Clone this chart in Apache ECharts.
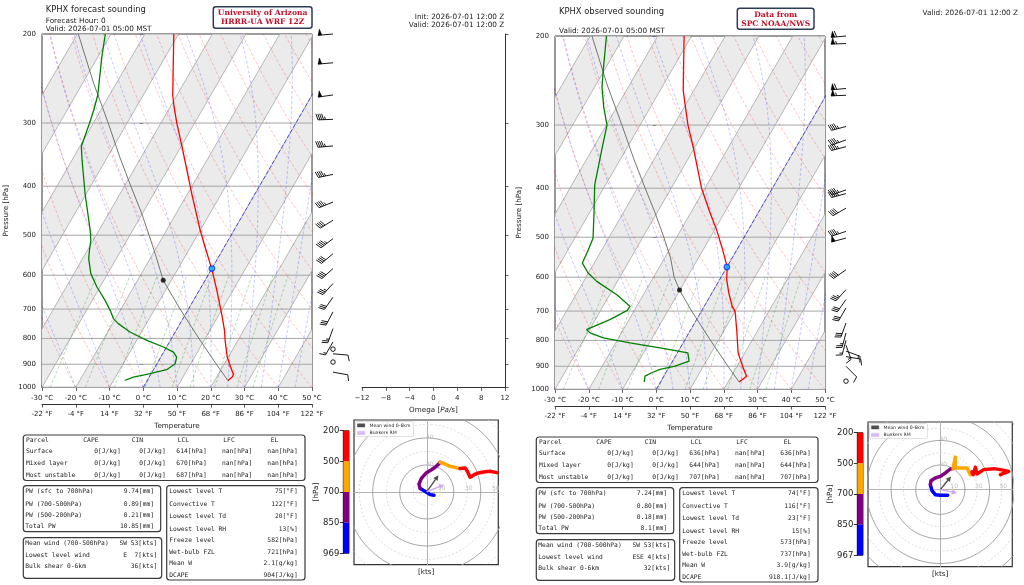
<!DOCTYPE html>
<html>
<head>
<meta charset="utf-8">
<title>KPHX soundings</title>
<script src="https://cdn.jsdelivr.net/npm/echarts@6.0.0/dist/echarts.min.js"></script>
<style>
  html, body { margin: 0; padding: 0; background: #fff; }
  #main { width: 1024px; height: 585px; }
</style>
</head>
<body>
<div id="main"></div>
<script>
var pressureTicks = [200, 300, 400, 500, 600, 700, 800, 900, 1000];
var omegaTicks = [-12, 12, 4];           // min, max, step

// forecast (HRRR-UA WRF)
var fcstPres = [969, 961, 954, 942.5, 911.6, 871, 807, 771, 714.7, 642.7, 584.8, 527.6, 489, 413.6, 372, 334, 300.6, 279, 264, 200];
var fcstTemp = [23.9, 24.0, 24.6, 24.5, 22.4, 19.7, 16.2, 14.3, 10.6, 5.2, 0.2, -5.7, -10.0, -18.8, -24.2, -29.7, -35.2, -38.8, -41.3, -51.4];
var fcstDewpPres = [969, 954, 939.5, 922.5, 897.6, 871, 851.4, 832, 807, 777, 748, 731, 704, 672.7, 633, 595.6, 556.2, 535.6, 511.7, 489, 413.6, 355.3, 333.4, 300.6, 283, 264, 222, 200];
var fcstDewp = [-6.7, -4.7, -0.3, 3.9, 5.4, 4.7, 2.9, -0.9, -7.0, -13.4, -18.3, -20.6, -23.0, -26.2, -30.9, -35.0, -38.2, -39.4, -40.7, -42.6, -50.4, -57.0, -59.6, -61.1, -62.1, -63.5, -68.8, -71.7];
var fcstParcelPres = [969, 900, 800, 700, 614, 550, 500, 450, 400, 350, 300, 250, 200];
var fcstParcelTemp = [23.9, 17.7, 8.1, -2.5, -12.4, -18.7, -24.3, -30.6, -38.1, -46.4, -55.6, -66.8, -79.7];
var fcstLcl = [614, -12.4];
var fcstFreeze = [582, 0];
var fcstBarbPres = [200, 228, 264, 295, 333, 379, 430, 467, 508, 544, 582, 623, 663, 709, 765, 813, 840, 858, 891, 933];
var fcstBarbDir = [265, 265, 262, 268, 265, 258, 248, 238, 233, 230, 228, 222, 215, 208, 200, 210, 0, 95, 0, 100];
var fcstBarbSpd = [50, 50, 50, 45, 45, 45, 45, 40, 45, 40, 40, 35, 30, 30, 25, 15, 0, 10, 0, 10];
var fcstHodoSfc850 = [[5.4, -2.5], [2.5, -2.0], [-0.5, 0], [-3.0, 1.5], [-4.9, 2.5]];
var fcstHodo850700 = [[-4.9, 2.5], [-5.8, 5.8], [-4.0, 10.0], [-0.5, 14.0], [3.5, 16.5], [6.5, 18.5], [8.6, 20.5], [9.9, 22.0]];
var fcstHodo700500 = [[9.9, 22.0], [13.6, 20.7], [17.3, 19.0], [22.2, 17.8], [24.7, 17.3]];
var fcstHodo500200 = [[24.7, 17.3], [28.4, 17.8], [30.1, 15.3], [32.1, 10.9], [35.1, 12.8], [38.3, 14.1], [42.0, 14.8], [46.9, 15.3], [51.9, 14.3]];
var fcstMeanWind = [8.6, 12.3];
var fcstBunkers = [12.8, 5.4];
var fcstLayerPres = [200, 500, 700, 850, 969];

// observed (SPC)
var obsPres = [967, 941.4, 899.6, 846.5, 761.5, 700.7, 685, 644.6, 606.8, 572.8, 529.6, 483.6, 448, 400, 331, 300.2, 272, 256, 200];
var obsTemp = [23.3, 24.5, 21.6, 18.0, 13.6, 10.0, 8.3, 5.0, 2.1, 0.1, -4.2, -9.4, -14.2, -21.0, -30.6, -35.8, -40.4, -43.2, -52.2];
var obsDewpPres = [967, 941.4, 927, 913.2, 899.6, 879.4, 846.5, 827.5, 808.9, 790.8, 773, 761.5, 727.7, 697.6, 685, 649.6, 611.5, 588.6, 562.5, 529.6, 502.2, 448, 394.2, 336.3, 300.2, 276.2, 252.3, 233.8, 200];
var obsDewp = [-4.8, -5.6, -4.2, -2.3, 1.6, 4.9, 3.1, -6.0, -15.8, -24.5, -29.3, -30.9, -25.7, -22.1, -22.0, -27.9, -36.1, -40.1, -43.5, -44.0, -44.6, -48.6, -53.2, -57.1, -59.8, -63.9, -67.8, -70.3, -75.2];
var obsParcelPres = [967, 900, 800, 700, 636, 600, 550, 500, 450, 400, 350, 300, 250, 200];
var obsParcelTemp = [23.3, 17.3, 7.7, -2.9, -10.1, -13.9, -18.2, -23.8, -30.2, -37.7, -46.1, -55.4, -66.6, -79.5];
var obsLcl = [636, -10.1];
var obsFreeze = [573, 0];
var obsBarbPres = [200, 207, 254, 262, 302, 321, 331, 403, 410, 438, 487, 502, 580, 635, 664, 690, 739, 773, 800, 818, 840, 861, 900, 963];
var obsBarbDir = [265, 268, 265, 268, 255, 250, 255, 250, 255, 240, 252, 255, 235, 222, 215, 210, 200, 195, 195, 160, 110, 100, 135, 0];
var obsBarbSpd = [60, 55, 60, 55, 45, 45, 45, 45, 45, 40, 45, 50, 40, 35, 30, 30, 30, 25, 15, 15, 15, 10, 10, 0];
var obsHodoSfc850 = [[6.0, -4.6], [0, -4.6], [-4.1, -4.1], [-6.8, -0.8], [-8.1, 4.1]];
var obsHodo850700 = [[-8.1, 4.1], [-7.6, 7.3], [-4.1, 9.5], [0, 10.8], [4.1, 13.6], [8.1, 16.8], [10.3, 17.1]];
var obsHodo700500 = [[10.3, 17.1], [11.9, 17.1], [12.2, 26.3], [12.2, 17.6], [21.7, 17.6], [24.4, 12.2], [25.7, 14.4]];
var obsHodo500200 = [[25.7, 14.4], [26.6, 12.2], [28.5, 18.2], [29.8, 12.7], [35.2, 16.3], [43.4, 17.1], [48.8, 16.3], [55.6, 14.9], [48.8, 12.2]];
var obsMeanWind = [8.7, 10.8];
var obsBunkers = [13.5, -2.7];
var obsLayerPres = [200, 500, 700, 850, 967];

// table texts
var parcelHead = ['Parcel', 'CAPE', 'CIN', 'LCL', 'LFC', 'EL'];
var parcelRows = ['Surface', 'Mixed layer', 'Most unstable'];
var fcstParcelVals = [['0[J/kg]', '0[J/kg]', '614[hPa]', 'nan[hPa]', 'nan[hPa]'],
                      ['0[J/kg]', '0[J/kg]', '670[hPa]', 'nan[hPa]', 'nan[hPa]'],
                      ['0[J/kg]', '0[J/kg]', '687[hPa]', 'nan[hPa]', 'nan[hPa]']];
var obsParcelVals = [['0[J/kg]', '0[J/kg]', '636[hPa]', 'nan[hPa]', '636[hPa]'],
                     ['0[J/kg]', '0[J/kg]', '644[hPa]', 'nan[hPa]', '644[hPa]'],
                     ['0[J/kg]', '0[J/kg]', '707[hPa]', 'nan[hPa]', '707[hPa]']];
var pwLabels = ['PW (sfc to 700hPa)', 'PW (700-500hPa)', 'PW (500-200hPa)', 'Total PW'];
var fcstPw = ['9.74[mm]', '0.89[mm]', '0.21[mm]', '10.85[mm]'];
var obsPw = ['7.24[mm]', '0.80[mm]', '0.18[mm]', '8.1[mm]'];
var windLabels = ['Mean wind (700-500hPa)', 'Lowest level wind', 'Bulk shear 0-6km'];
var fcstWind = ['SW 53[kts]', 'E  7[kts]', '36[kts]'];
var obsWind = ['SW 53[kts]', 'ESE 4[kts]', '32[kts]'];
var indexLabels = ['Lowest level T', 'Convective T', 'Lowest level Td', 'Lowest level RH', 'Freeze level', 'Wet-bulb FZL', 'Mean W', 'DCAPE'];
var fcstIndex = ['75[°F]', '122[°F]', '20[°F]', '13[%]', '582[hPa]', '721[hPa]', '2.1[g/kg]', '904[J/kg]'];
var obsIndex = ['74[°F]', '116[°F]', '23[°F]', '15[%]', '573[hPa]', '737[hPa]', '3.9[g/kg]', '918.1[J/kg]'];

// ---------- skew-T geometry ----------
var FONT = 'DejaVu Sans';
var TFONT = '6.3px "DejaVu Sans Mono"';
var PLOT_W = 270, PLOT_H = 353.4;
var LOGTOP = Math.log10(200), LOGBOT = Math.log10(1000);
// isotherms lean 30 degrees: degC shift per decade of pressure
var SKEW = Math.tan(Math.PI / 6) * (PLOT_H / (LOGBOT - LOGTOP)) / (PLOT_W / 80);
function lp(p) { return Math.log10(p); }
function sx(t, p) { return t + SKEW * (LOGBOT - Math.log10(p)); }
function skewPts(pres, temp) { return pres.map(function (p, i) { return [sx(temp[i], p), lp(p)]; }); }

// thermodynamic background lines
function satMix(tC, p) { var es = 6.112 * Math.exp(17.67 * tC / (tC + 243.5)); return 0.622 * es / (p - es); }
function moistRate(p, tK) {
  var rs = satMix(tK - 273.15, p);
  return (287.04 * tK + 2.501e6 * rs) / (1005.7 + 2.501e6 * 2.501e6 * rs * 0.622 / (287.04 * tK * tK)) / p;
}
function moistLine(t0) {
  var t = t0 + 273.15, p = 1000, dp = -10, pts = [[sx(t0, p), lp(p)]];
  while (p > 200) {
    var k1 = moistRate(p, t), k2 = moistRate(p + dp / 2, t + k1 * dp / 2),
        k3 = moistRate(p + dp / 2, t + k2 * dp / 2), k4 = moistRate(p + dp, t + k3 * dp);
    t += dp * (k1 + 2 * k2 + 2 * k3 + k4) / 6; p += dp;
    pts.push([sx(t - 273.15, p), lp(p)]);
  }
  return pts;
}
function dryLine(th) {
  var pts = [];
  for (var p = 1000; p >= 200; p -= 20) pts.push([sx((th + 273.15) * Math.pow(p / 1000, 0.2857) - 273.15, p), lp(p)]);
  return pts;
}
function mixLine(w) {
  var pts = [];
  for (var p = 1000; p >= 600; p -= 50) {
    var e = w / 1000 * p / (0.622 + w / 1000), a = Math.log(e / 6.112);
    pts.push([sx(243.5 * a / (17.67 - a), p), lp(p)]);
  }
  return pts;
}
var isoLines = [], dryLines = [], moistLines = [], mixLines = [];
for (var t = -100; t <= 50; t += 10) isoLines.push([[sx(t, 1000), LOGBOT], [sx(t, 200), LOGTOP]]);
for (var th = -40; th <= 200; th += 10) dryLines.push(dryLine(th));
[-30, -20, -10, 0, 5, 10, 15, 20, 25, 30, 35, 40, 45].forEach(function (m) { moistLines.push(moistLine(m)); });
[0.4, 1, 2, 4, 7, 10, 16, 24, 32].forEach(function (w) { mixLines.push(mixLine(w)); });
var bandStarts = [-100, -80, -60, -40, -20, 0, 20, 40];

function clipPoly(pts, x0, y0, x1, y1) {
  [[0, x0, 1], [0, x1, -1], [1, y0, 1], [1, y1, -1]].forEach(function (pl) {
    var k = pl[0], b = pl[1], sg = pl[2], out = [];
    function inside(q) { return sg * (q[k] - b) >= 0; }
    function cut(a, c) { var f = (b - a[k]) / (c[k] - a[k]); return [a[0] + f * (c[0] - a[0]), a[1] + f * (c[1] - a[1])]; }
    for (var i = 0; i < pts.length; i++) {
      var cur = pts[i], prev = pts[(i + pts.length - 1) % pts.length];
      if (inside(cur)) { if (!inside(prev)) out.push(cut(prev, cur)); out.push(cur); }
      else if (inside(prev)) out.push(cut(prev, cur));
    }
    pts = out;
  });
  return pts;
}

var option = { animation: false, backgroundColor: '#ffffff', grid: [], xAxis: [], yAxis: [], series: [], graphic: [] };

function refLine(xi, yi, pts, color, width, dash, z) {
  option.series.push({
    type: 'line', xAxisIndex: xi, yAxisIndex: yi, data: pts, symbol: 'none', silent: true, clip: true, z: z || 2,
    lineStyle: { color: color, width: width, type: dash || 'solid' }
  });
}

function pressAxis(g, extra) {
  var ticks = pressureTicks.map(lp);
  return Object.assign({
    gridIndex: g, type: 'value', min: LOGTOP, max: LOGBOT, inverse: true,
    axisLine: { show: false }, splitLine: { show: false },
    axisTick: { show: true, customValues: ticks, length: 3.5, lineStyle: { color: '#333', width: 0.8 } },
    axisLabel: { show: true, customValues: ticks, formatter: function (v) { return Math.round(Math.pow(10, v)); },
                 fontSize: 7, color: '#222', fontFamily: FONT, margin: 6 }
  }, extra || {});
}
function tempAxis(g, offset, fmt, margin) {
  return {
    gridIndex: g, type: 'value', min: -30, max: 50, interval: 10, position: 'bottom', offset: offset,
    axisLine: { show: true, onZero: false, lineStyle: { color: '#333', width: 1 } },
    axisTick: { show: true, length: 3.5, lineStyle: { color: '#333', width: 0.8 } },
    axisLabel: { formatter: fmt, fontSize: 7, color: '#222', fontFamily: FONT, margin: margin },
    splitLine: { show: false }
  };
}

// ---------- wind barbs ----------
function barbItem(params, api) {
  var P = api.coord([api.value(0), api.value(1)]);
  var d = api.value(2) * Math.PI / 180, spd = api.value(3);
  var L = 15, ink = { stroke: '#000', lineWidth: 0.9, fill: 'none' };
  var s = [Math.sin(d), -Math.cos(d)], q = [Math.cos(d), Math.sin(d)];
  function at(t, h) { return [P[0] + s[0] * t + q[0] * h, P[1] + s[1] * t + q[1] * h]; }
  function seg(a, b) { return { type: 'line', shape: { x1: a[0], y1: a[1], x2: b[0], y2: b[1] }, style: ink }; }
  var r = Math.round(spd / 5) * 5;
  if (r < 5) return { type: 'circle', shape: { cx: P[0], cy: P[1], r: 0.15 * L }, style: ink };
  var kids = [seg(P, at(L, 0))];
  var h = 0.4 * L, w = 0.25 * L, sp = 0.125 * L, off = L, i;
  var nFlag = Math.floor(r / 50), nFull = Math.floor((r % 50) / 10), half = (r % 10) >= 5;
  for (i = 0; i < nFlag; i++) {
    if (off !== L) off += sp / 2;
    kids.push({ type: 'polygon', shape: { points: [at(off, 0), at(off - w / 2, h), at(off - w, 0)] },
                style: { fill: '#000', stroke: '#000', lineWidth: 0.5 } });
    off -= w + sp;
  }
  for (i = 0; i < nFull; i++) { kids.push(seg(at(off, 0), at(off + w / 2, h))); off -= sp; }
  if (half) { if (off === L) off -= 1.5 * sp; kids.push(seg(at(off, 0), at(off + w / 4, h / 2))); }
  return { type: 'group', children: kids };
}

// ---------- a full sounding panel ----------
function buildPanel(c) {
  // skew-T grid
  var g = option.grid.length;
  option.grid.push({ left: c.x, top: c.y, width: PLOT_W, height: PLOT_H, show: true, borderColor: '#333', borderWidth: 1 });
  var xi = option.xAxis.length, yi = option.yAxis.length;
  option.xAxis.push(tempAxis(g, 0, function (v) { return v + ' °C'; }, 7));
  option.xAxis.push(Object.assign(tempAxis(g, 16.7, function (v) { return Math.round(v * 9 / 5 + 32) + ' °F'; }, 6.5), {
    name: 'Temperature', nameLocation: 'middle', nameGap: 18,
    nameTextStyle: { fontSize: 7.2, color: '#222', fontFamily: FONT }
  }));
  option.yAxis.push(pressAxis(g, {
    name: 'Pressure [hPa]', nameLocation: 'middle', nameRotate: 90, nameGap: 32,
    nameTextStyle: { fontSize: 7.2, color: '#222', fontFamily: FONT }
  }));

  option.series.push({
    type: 'custom', xAxisIndex: xi, yAxisIndex: yi, silent: true, z: 1,
    data: bandStarts.map(function (b) { return [b, LOGBOT]; }),
    renderItem: function (params, api) {
      var t1 = api.value(0), t2 = t1 + 10, cs = params.coordSys;
      var pts = [api.coord([sx(t1, 1000), LOGBOT]), api.coord([sx(t1, 200), LOGTOP]),
                 api.coord([sx(t2, 200), LOGTOP]), api.coord([sx(t2, 1000), LOGBOT])];
      pts = clipPoly(pts, cs.x, cs.y, cs.x + cs.width, cs.y + cs.height);
      if (pts.length < 3) return null;
      return { type: 'polygon', shape: { points: pts }, style: { fill: '#ebebeb' } };
    }
  });
  isoLines.forEach(function (l) { refLine(xi, yi, l, '#a6a6a6', 0.8); });
  pressureTicks.forEach(function (p) { refLine(xi, yi, [[-30, lp(p)], [50, lp(p)]], '#a6a6a6', 1); });
  dryLines.forEach(function (l) { refLine(xi, yi, l, 'rgba(255,0,0,0.3)', 0.8, [3, 2]); });
  moistLines.forEach(function (l) { refLine(xi, yi, l, 'rgba(0,0,255,0.28)', 0.8, [3, 2]); });
  mixLines.forEach(function (l) { refLine(xi, yi, l, 'rgba(0,128,0,0.35)', 0.8, [3, 2]); });
  refLine(xi, yi, [[sx(0, 1000), LOGBOT], [sx(0, 200), LOGTOP]], 'rgba(50,50,215,0.8)', 1, [4, 2], 3);

  refLine(xi, yi, skewPts(c.parcelPres, c.parcelTemp), '#666666', 0.9, 'solid', 4);
  refLine(xi, yi, skewPts(c.pres, c.temp), '#ff0000', 1.3, 'solid', 5);
  refLine(xi, yi, skewPts(c.dewpPres, c.dewp), '#008000', 1.3, 'solid', 5);
  option.series.push({
    type: 'scatter', xAxisIndex: xi, yAxisIndex: yi, silent: true, z: 6, symbolSize: 5,
    data: [[sx(c.lcl[1], c.lcl[0]), lp(c.lcl[0])]], itemStyle: { color: '#000' }
  });
  option.series.push({
    type: 'scatter', xAxisIndex: xi, yAxisIndex: yi, silent: true, z: 6, symbolSize: 5.5,
    data: [[sx(c.freeze[1], c.freeze[0]), lp(c.freeze[0])]],
    itemStyle: { color: '#00bfff', borderColor: '#1030ff', borderWidth: 1.2 }
  });

  // barbs column
  var gb = option.grid.length;
  option.grid.push({ left: c.x + 271, top: c.y, width: 40, height: PLOT_H });
  var bx = option.xAxis.length, by = option.yAxis.length;
  option.xAxis.push({ gridIndex: gb, type: 'value', min: 0, max: 1, show: false });
  option.yAxis.push({ gridIndex: gb, type: 'value', min: LOGTOP, max: LOGBOT, inverse: true, show: false });
  option.series.push({
    type: 'custom', xAxisIndex: bx, yAxisIndex: by, silent: true, z: 5, renderItem: barbItem,
    data: c.barbPres.map(function (p, i) { return [0.5, lp(p), c.barbDir[i], c.barbSpd[i]]; })
  });

  // omega panel (forecast only)
  if (c.omega) {
    var go = option.grid.length;
    option.grid.push({ left: c.x + 320, top: c.y, width: 143, height: PLOT_H });
    option.xAxis.push({
      gridIndex: go, type: 'value', min: omegaTicks[0], max: omegaTicks[1], interval: omegaTicks[2], position: 'bottom',
      axisLine: { show: true, onZero: false, lineStyle: { color: '#333', width: 1 } },
      axisTick: { show: true, length: 3.5, lineStyle: { color: '#333', width: 0.8 } },
      axisLabel: { formatter: function (v) { return v < 0 ? '\u2212' + (-v) : String(v); }, fontSize: 7, color: '#222', fontFamily: FONT, margin: 7 },
      splitLine: { show: false },
      name: '{a|Omega [}{b|Pa/s}{a|]}', nameLocation: 'middle', nameGap: 17,
      nameTextStyle: { rich: { a: { fontSize: 7.2, color: '#222', fontFamily: FONT }, b: { fontSize: 7.2, color: '#222', fontFamily: FONT, fontStyle: 'italic' } } }
    });
    option.yAxis.push(pressAxis(go, {
      position: 'right',
      axisLine: { show: true, onZero: false, lineStyle: { color: '#333', width: 1 } },
      axisLabel: { show: false }
    }));
  }

  // hodograph
  var gh = option.grid.length;
  option.grid.push({ left: c.hx, top: c.hy, width: 144.3, height: 144.7, show: true, borderColor: '#333', borderWidth: 1.2 });
  var hx = option.xAxis.length, hy = option.yAxis.length;
  var plain = { axisTick: { show: false }, axisLabel: { show: false }, splitLine: { show: false },
                axisLine: { show: true, onZero: true, lineStyle: { color: '#b3b3b3', width: 1 } } };
  option.xAxis.push(Object.assign({ gridIndex: gh, type: 'value', min: c.hxr[0], max: c.hxr[1] }, plain));
  option.yAxis.push(Object.assign({ gridIndex: gh, type: 'value', min: c.hyr[0], max: c.hyr[1] }, plain));
  [10, 20, 30, 40, 50, 60, 70, 80].forEach(function (rr) {
    var ring = [];
    for (var a = 0; a <= 360; a += 3) ring.push([rr * Math.cos(a * Math.PI / 180), rr * Math.sin(a * Math.PI / 180)]);
    if (rr % 20 === 0) refLine(hx, hy, ring, '#9a9a9a', 0.9, 'solid', 2);
    else refLine(hx, hy, ring, '#d4d4d4', 0.8, [2, 2], 2);
  });
  option.series.push({
    type: 'custom', xAxisIndex: hx, yAxisIndex: hy, silent: true, z: 3,
    data: [[10, 0], [30, 0], [50, 0], [20, 1], [40, 1]],
    renderItem: function (params, api) {
      var rr = api.value(0), vert = api.value(1);
      var o = api.coord([0, 0]), e = api.coord([rr, 0]), rp = e[0] - o[0];
      return { type: 'text', x: vert ? o[0] + 3 : o[0] + rp + 1.5, y: vert ? o[1] - rp - 1 : o[1] - 3.3,
               style: { text: String(rr), fill: '#bdbdbd', font: '6px "DejaVu Sans"', textAlign: 'center', textVerticalAlign: 'middle', align: 'center', verticalAlign: 'middle' } };
    }
  });
  var layerColors = ['#0000ff', '#800080', '#ffa500', '#ff0000'];
  [c.hodo[0], c.hodo[1], c.hodo[2], c.hodo[3]].forEach(function (segData, k) {
    option.series.push({
      type: 'line', xAxisIndex: hx, yAxisIndex: hy, data: segData, symbol: 'none', silent: true, clip: true, z: 5,
      lineStyle: { color: layerColors[k], width: 3.5, cap: 'round', join: 'round' }
    });
  });
  option.series.push({
    type: 'custom', xAxisIndex: hx, yAxisIndex: hy, silent: true, z: 6,
    data: [[c.meanWind[0], c.meanWind[1], 0], [c.bunkers[0], c.bunkers[1], 1]],
    renderItem: function (params, api) {
      var o = api.coord([0, 0]), e = api.coord([api.value(0), api.value(1)]);
      var col = api.value(2) ? '#d0a6f5' : '#505050';
      var dx = e[0] - o[0], dy = e[1] - o[1], len = Math.sqrt(dx * dx + dy * dy), ux = dx / len, uy = dy / len;
      var hl = 5, hw = 2.6, b = [e[0] - ux * hl, e[1] - uy * hl];
      return { type: 'group', children: [
        { type: 'line', shape: { x1: o[0], y1: o[1], x2: b[0], y2: b[1] }, style: { stroke: col, lineWidth: 1.4 } },
        { type: 'polygon', shape: { points: [e, [b[0] - uy * hw, b[1] + ux * hw], [b[0] + uy * hw, b[1] - ux * hw]] }, style: { fill: col } }
      ] };
    }
  });

  // colour bar for hodograph layers
  var gc = option.grid.length;
  option.grid.push({ left: c.hx - 10.7, top: c.hy + 10.7, width: 5.7, height: 122.6, show: true, borderColor: '#000', borderWidth: 0.8 });
  var cx = option.xAxis.length, cy = option.yAxis.length;
  option.xAxis.push({ gridIndex: gc, type: 'category', data: ['p'], show: false });
  option.yAxis.push({
    gridIndex: gc, type: 'value', min: 0, max: 4, interval: 1, inverse: true,
    axisLine: { show: true, lineStyle: { color: '#000', width: 0.8 } },
    axisTick: { show: true, length: 3.5, lineStyle: { color: '#000', width: 0.8 } },
    axisLabel: { formatter: function (v) { return c.layerPres[v]; }, fontSize: 8.5, color: '#222', fontFamily: FONT, margin: 4 },
    splitLine: { show: false },
    name: '[hPa]', nameLocation: 'middle', nameRotate: 90, nameGap: 23,
    nameTextStyle: { fontSize: 7.2, color: '#222', fontFamily: FONT }
  });
  ['#ff0000', '#ffa500', '#800080', '#0000ff'].forEach(function (col) {
    option.series.push({ type: 'bar', xAxisIndex: cx, yAxisIndex: cy, stack: 'cb' + gc, data: [1], barWidth: '100%',
                         silent: true, itemStyle: { color: col } });
  });

  // texts, boxes and tables
  var G = option.graphic;
  function txt(x, y, s, align, font, fill, z) {
    G.push({ type: 'text', x: x, y: y, silent: true, z: z || 10,
             style: { text: s, fill: fill || '#222', font: font || TFONT, textAlign: align || 'left', textVerticalAlign: 'middle', align: align || 'left', verticalAlign: 'middle' } });
  }
  function box(x, y, w, h, stroke, lw, r, z) {
    G.push({ type: 'rect', silent: true, z: z || 5, shape: { x: x, y: y, width: w, height: h, r: r == null ? 3 : r },
             style: { fill: '#fff', stroke: stroke || '#3a3a3a', lineWidth: lw || 1.2 } });
  }
  c.titles.forEach(function (t) { txt(t[0], t[1], t[2], t[3], t[4]); });
  box(c.badge[0], c.badge[1], c.badge[2], c.badge[3], '#2e3b55', 1.5, 2.5);
  txt(c.badge[0] + c.badge[2] / 2, c.badge[1] + 6.6, c.badgeText[0], 'center', 'bold 7.6px "DejaVu Serif"', '#c0102a');
  txt(c.badge[0] + c.badge[2] / 2, c.badge[1] + 15.6, c.badgeText[1], 'center', 'bold 7.6px "DejaVu Serif"', '#c0102a');

  var ox = c.tx, oy = c.ty, i, j;
  box(ox + 23.3, oy + 435, 281.7, 45.5);
  var headX = [26, 83.3, 131.7, 177.7, 223.3, 270.7], valR = [120.7, 165.7, 206.7, 252.3, 297.7], rowY = [451.7, 463.3, 475];
  parcelHead.forEach(function (hd, k) { txt(ox + headX[k], oy + 440, hd); });
  for (i = 0; i < 3; i++) {
    txt(ox + 26, oy + rowY[i], parcelRows[i]);
    for (j = 0; j < 5; j++) txt(ox + valR[j], oy + rowY[i], c.parcelVals[i][j], 'right');
  }
  box(ox + 23.3, oy + 485.7, 137.4, 46);
  [491.7, 504, 515.3, 526.7].forEach(function (y, k) { txt(ox + 25.3, oy + y, pwLabels[k]); txt(ox + 154, oy + y, c.pw[k], 'right'); });
  box(ox + 23.3, oy + 537.7, 138.4, 40.6);
  [543.3, 555, 566.7].forEach(function (y, k) { txt(ox + 25.3, oy + y, windLabels[k]); txt(ox + 157.3, oy + y, c.wind[k], 'right'); });
  box(ox + 166.7, oy + 485.7, 138.3, 94.3);
  [491.7, 504.3, 516.7, 529, 540.7, 552.3, 563.3, 575].forEach(function (y, k) { txt(ox + 169.3, oy + y, indexLabels[k]); txt(ox + 297.7, oy + y, c.index[k], 'right'); });

  // hodograph legend and axis label
  G.push({ type: 'rect', silent: true, z: 20, shape: { x: c.hx + 1.5, y: c.hy + 1.5, width: 58, height: 15, r: 1.5 },
           style: { fill: 'rgba(255,255,255,0.85)', stroke: '#cccccc', lineWidth: 0.6 } });
  G.push({ type: 'rect', silent: true, z: 21, shape: { x: c.hx + 3.5, y: c.hy + 3.8, width: 7.3, height: 3.2 }, style: { fill: '#505050', stroke: '#333', lineWidth: 0.4 } });
  G.push({ type: 'rect', silent: true, z: 21, shape: { x: c.hx + 3.5, y: c.hy + 11.3, width: 7.3, height: 3.2 }, style: { fill: '#dcbcf7', stroke: '#c9a0f0', lineWidth: 0.4 } });
  txt(c.hx + 15.5, c.hy + 5.4, 'Mean wind 0-6km', 'left', '4.6px "DejaVu Sans"', '#222', 22);
  txt(c.hx + 15.5, c.hy + 13, 'Bunkers RM', 'left', '4.6px "DejaVu Sans"', '#222', 22);
  txt(c.hx + 72.2, c.hy + 152, '[kts]', 'center', '7.2px "DejaVu Sans"');
}

buildPanel({
  x: 42, y: 34, omega: true,
  pres: fcstPres, temp: fcstTemp, dewpPres: fcstDewpPres, dewp: fcstDewp,
  parcelPres: fcstParcelPres, parcelTemp: fcstParcelTemp, lcl: fcstLcl, freeze: fcstFreeze,
  barbPres: fcstBarbPres, barbDir: fcstBarbDir, barbSpd: fcstBarbSpd,
  hx: 354, hy: 420, hxr: [-53.9, 53.0], hyr: [-53.9, 53.3],
  hodo: [fcstHodoSfc850, fcstHodo850700, fcstHodo700500, fcstHodo500200],
  meanWind: fcstMeanWind, bunkers: fcstBunkers, layerPres: fcstLayerPres,
  tx: 0, ty: 0, parcelVals: fcstParcelVals, pw: fcstPw, wind: fcstWind, index: fcstIndex,
  titles: [[45.7, 10.3, 'KPHX forecast sounding', 'left', '8.4px "DejaVu Sans"'],
           [45.7, 21.3, 'Forecast Hour: 0', 'left', '7.3px "DejaVu Sans"'],
           [45.7, 29.3, 'Valid: 2026-07-01 05:00 MST', 'left', '7.3px "DejaVu Sans"'],
           [504.3, 17.3, 'Init: 2026-07-01 12:00 Z', 'right', '7.3px "DejaVu Sans"'],
           [504.3, 25.2, 'Valid: 2026-07-01 12:00 Z', 'right', '7.3px "DejaVu Sans"']],
  badge: [213.3, 6.7, 98.7, 21.6], badgeText: ['University of Arizona', 'HRRR-UA WRF 12Z']
});
buildPanel({
  x: 555, y: 36, omega: false,
  pres: obsPres, temp: obsTemp, dewpPres: obsDewpPres, dewp: obsDewp,
  parcelPres: obsParcelPres, parcelTemp: obsParcelTemp, lcl: obsLcl, freeze: obsFreeze,
  barbPres: obsBarbPres, barbDir: obsBarbDir, barbSpd: obsBarbSpd,
  hx: 868, hy: 422, hxr: [-58.8, 58.5], hyr: [-62.6, 55.0],
  hodo: [obsHodoSfc850, obsHodo850700, obsHodo700500, obsHodo500200],
  meanWind: obsMeanWind, bunkers: obsBunkers, layerPres: obsLayerPres,
  tx: 513, ty: 2, parcelVals: obsParcelVals, pw: obsPw, wind: obsWind, index: obsIndex,
  titles: [[559, 12.3, 'KPHX observed sounding', 'left', '8.4px "DejaVu Sans"'],
           [559, 30.7, 'Valid: 2026-07-01 05:00 MST', 'left', '7.3px "DejaVu Sans"'],
           [1018, 13, 'Valid: 2026-07-01 12:00 Z', 'right', '7.3px "DejaVu Sans"']],
  badge: [737.3, 8.3, 76.7, 21], badgeText: ['Data from', 'SPC NOAA/NWS']
});

var chart = echarts.init(document.getElementById('main'), null, { renderer: 'canvas' });
chart.setOption(option);
</script>
</body>
</html>
